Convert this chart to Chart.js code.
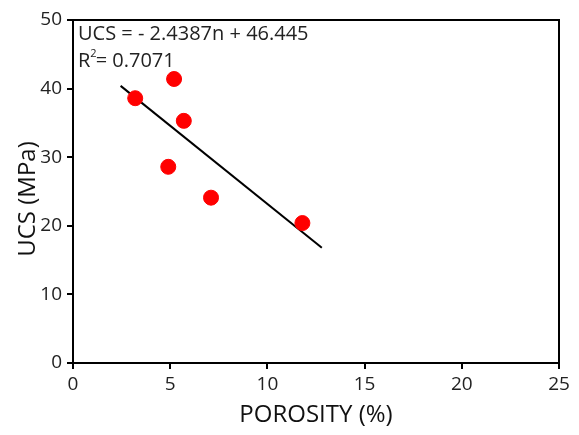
<!DOCTYPE html>
<html>
<head>
<meta charset="utf-8">
<script src="https://cdn.jsdelivr.net/npm/chart.js@4"></script>
<style>
html,body{margin:0;padding:0;background:#fff;}
#wrap{width:579px;height:435px;position:relative;}
</style>
</head>
<body>
<div id="wrap"><canvas id="c" width="579" height="435"></canvas></div>
<script>
// Data
const porosity = [3.2, 5.2, 5.7, 4.9, 7.1, 11.8];
const ucs      = [38.6, 41.4, 35.3, 28.6, 24.1, 20.4];
const trendX   = [2.45, 12.8];
const trendY   = [40.4, 16.8];
const xTicks   = [0, 5, 10, 15, 20, 25];
const yTicks   = [0, 10, 20, 30, 40, 50];
const eqLine1  = "UCS = - 2.4387n + 46.445";
const eqR2     = "0.7071";
const xTitle   = "POROSITY (%)";
const yTitle   = "UCS (MPa)";

const FONT = "'Open Sans', 'Noto Sans', sans-serif";

const pts = porosity.map((x, i) => ({x: x, y: ucs[i]}));
const trend = trendX.map((x, i) => ({x: x, y: trendY[i]}));

const framePlugin = {
  id: 'frame',
  afterDraw(chart) {
    const {ctx, chartArea: a} = chart;
    ctx.save();
    ctx.strokeStyle = '#000';
    ctx.lineWidth = 2;
    ctx.strokeRect(a.left, a.top, a.right - a.left, a.bottom - a.top);
    // equation text
    ctx.fillStyle = '#222';
    ctx.font = "20px " + FONT;
    ctx.textBaseline = 'alphabetic';
    ctx.textAlign = 'left';
    const x0 = a.left + 5;
    ctx.fillText(eqLine1, x0, a.top + 20);
    ctx.fillText("R", x0, a.top + 47);
    const rw = ctx.measureText("R").width;
    ctx.font = "11px " + FONT;
    ctx.fillText("2", x0 + rw, a.top + 37);
    const sw = ctx.measureText("2").width;
    ctx.font = "20px " + FONT;
    ctx.fillText("= " + eqR2, x0 + rw + sw - 1, a.top + 47);
    // y-axis title
    ctx.fillStyle = '#111';
    ctx.font = "24px " + FONT;
    ctx.textAlign = 'center';
    ctx.textBaseline = 'middle';
    ctx.translate(28, 199);
    ctx.rotate(-Math.PI / 2);
    ctx.fillText(yTitle, 0, 0);
    ctx.restore();
  }
};

new Chart(document.getElementById('c'), {
  type: 'scatter',
  data: {
    datasets: [
      {
        type: 'line',
        data: trend,
        borderColor: '#000',
        borderWidth: 2,
        pointRadius: 0,
        fill: false,
        order: 2
      },
      {
        data: pts,
        backgroundColor: '#ff0000',
        borderColor: '#ff0000',
        pointRadius: 7.5,
        pointHoverRadius: 7.5,
        order: 1
      }
    ]
  },
  options: {
    responsive: false,
    animation: false,
    events: [],
    layout: {padding: {top: 20, right: 20, left: 0, bottom: 0}},
    plugins: {legend: {display: false}, tooltip: {enabled: false}},
    scales: {
      x: {
        type: 'linear',
        min: 0, max: 25,
        afterBuildTicks(s) { s.ticks = xTicks.map(v => ({value: v})); },
        afterFit(s) { s.height = 72; },
        grid: {display: true, drawOnChartArea: false, drawTicks: true, tickLength: 6, color: '#000', lineWidth: 2},
        border: {display: true, color: '#000', width: 2},
        ticks: {color: '#222', padding: 4, maxRotation: 0, font: {family: FONT, size: 19}},
        title: {display: true, text: xTitle, color: '#111', font: {family: FONT, size: 24}, padding: {top: 0, bottom: 5}}
      },
      y: {
        type: 'linear',
        min: 0, max: 50,
        afterBuildTicks(s) { s.ticks = yTicks.map(v => ({value: v})); },
        afterFit(s) { s.width = 73; },
        grid: {display: true, drawOnChartArea: false, drawTicks: true, tickLength: 6, color: '#000', lineWidth: 2},
        border: {display: true, color: '#000', width: 2},
        ticks: {color: '#222', padding: 5, font: {family: FONT, size: 19}},
        title: {display: false, text: yTitle}
      }
    }
  },
  plugins: [framePlugin]
});
</script>
</body>
</html>
